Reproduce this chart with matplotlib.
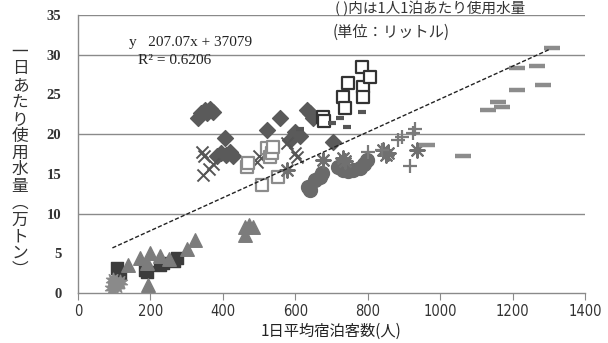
import matplotlib
matplotlib.use("Agg")
import matplotlib.pyplot as plt
import numpy as np

plt.rcParams['font.family'] = ['Noto Sans CJK JP', 'DejaVu Sans']

# ---- data (x: 1日平均宿泊客数, y: 一日あたり使用水量 万トン) ----
dark_sq_x = [108, 116, 185, 190, 226, 235, 265, 273]
dark_sq_y = [3.1, 2.5, 2.9, 2.6, 3.5, 3.8, 4.0, 4.4]

tri_x = [138, 171, 190, 193, 199, 226, 250, 301, 323, 461, 483, 461, 472]
tri_y = [3.5, 4.4, 3.8, 1.0, 5.0, 4.6, 4.3, 5.6, 6.7, 8.3, 8.3, 7.3, 8.6]

burst_x = [94, 102, 116, 108, 98]
burst_y = [0.6, 1.3, 1.4, 0.9, 1.6]

dia_x = [330, 340, 350, 356, 365, 372, 384, 395, 406, 410, 420, 428, 522, 558, 585, 599, 613, 632, 640, 649, 704]
dia_y = [22.0, 22.6, 23.0, 22.6, 23.2, 22.8, 17.2, 17.6, 19.5, 17.4, 17.8, 17.2, 20.5, 22.0, 19.2, 20.3, 19.8, 23.0, 22.6, 22.0, 19.0]

x_x = [342, 348, 345, 373, 363, 494, 500, 577, 605, 600]
x_y = [17.7, 17.2, 14.8, 16.3, 15.6, 16.5, 17.2, 18.9, 17.1, 17.6]

lsq_x = [467, 470, 508, 522, 530, 535, 539, 552]
lsq_y = [15.9, 16.4, 13.6, 18.2, 17.1, 17.6, 18.4, 14.6]

dsq_x = [677, 680, 732, 737, 746, 784, 787, 787, 807]
dsq_y = [22.1, 21.7, 24.7, 23.3, 26.4, 28.4, 25.9, 24.7, 27.2]

sdash_x = [701, 724, 742, 784, 613]
sdash_y = [21.4, 22.0, 20.9, 22.8, 20.6]

circ_x = [635, 641, 655, 667, 674, 718, 732, 746, 760, 779, 790, 798]
circ_y = [13.3, 13.0, 14.2, 14.6, 15.1, 15.9, 15.5, 15.3, 15.5, 15.7, 16.2, 16.7]

ast_x = [577, 677, 732, 737, 842, 850, 856, 936]
ast_y = [15.5, 16.7, 17.0, 16.6, 18.0, 17.4, 17.6, 18.0]

plus_x = [801, 840, 884, 895, 917, 925, 931]
plus_y = [17.7, 18.0, 19.2, 19.6, 16.0, 20.1, 20.7]

gdash_x = [964, 1063, 1132, 1160, 1171, 1212, 1212, 1268, 1284, 1309]
gdash_y = [18.6, 17.2, 23.1, 24.1, 23.4, 25.5, 28.3, 28.6, 26.2, 30.9]

trend_slope = 207.07
trend_icpt = 37079
trend_x = [95, 1300]

xticks = [0, 200, 400, 600, 800, 1000, 1200, 1400]
yticks = [0, 5, 10, 15, 20, 25, 30, 35]

fig = plt.figure(figsize=(6.08, 3.43), dpi=100)
ax = fig.add_axes([78/608, 1-293/343, 507/608, 278/343])
ax.set_xlim(0, 1400)
ax.set_ylim(0, 35)

for yg in [10, 20, 30, 35]:
    ax.axhline(yg, color='#8a8a8a', lw=1.0, zorder=1)

tx = np.array(trend_x, dtype=float)
ty = (trend_slope * tx + trend_icpt) / 10000
ax.plot(tx, ty, color='#222222', lw=1.0, ls=(0, (3, 1.5)), zorder=6)

ax.scatter(dark_sq_x, dark_sq_y, marker='s', s=80, color='#3c3c3c', zorder=3)
ax.scatter(tri_x, tri_y, marker='^', s=95, color='#7c7c7c', zorder=3)
ax.scatter(burst_x, burst_y, marker=(10, 1, 0), s=110, color='#8a8a8a', zorder=3)
ax.scatter(dia_x, dia_y, marker='D', s=65, color='#5a5a5a', zorder=3)
ax.scatter(x_x, x_y, marker='x', s=75, color='#555555', linewidths=1.4, zorder=3)
ax.scatter(lsq_x, lsq_y, marker='s', s=85, facecolor='white', edgecolor='#8c8c8c', linewidths=1.6, zorder=3)
ax.scatter(dsq_x, dsq_y, marker='s', s=85, facecolor='white', edgecolor='#333333', linewidths=1.6, zorder=3)
ax.scatter(sdash_x, sdash_y, marker='_', s=30, color='#555555', linewidths=3, zorder=3)
ax.scatter(circ_x, circ_y, marker='o', s=100, color='#6a6a6a', zorder=3)
ax.scatter(ast_x, ast_y, marker=(8, 2, 0), s=110, color='#707070', linewidths=1.5, zorder=3)
ax.scatter(plus_x, plus_y, marker='+', s=95, color='#7a7a7a', linewidths=1.6, zorder=3)
ax.scatter(gdash_x, gdash_y, marker='_', s=120, color='#8c8c8c', linewidths=3.2, zorder=3)

for s in ['top', 'right']:
    ax.spines[s].set_visible(False)
for s in ['left', 'bottom']:
    ax.spines[s].set_color('#8a8a8a')
    ax.spines[s].set_linewidth(1.0)

ax.set_xticks(xticks)
ax.set_xticklabels([str(v) for v in xticks], family=['DejaVu Sans'], fontstretch='condensed', fontsize=10.5, color='#333333')
ax.tick_params(axis='x', length=5, color='#8a8a8a', pad=3)
ax.set_yticks(yticks)
ax.set_yticklabels([str(v) for v in yticks], family=['Liberation Serif'], fontweight='bold', fontsize=10.5, color='#333333')
ax.set_yticks([0, 10, 20, 30, 35], minor=True)
ax.tick_params(axis='y', which='major', length=0, pad=12)
ax.tick_params(axis='y', which='minor', length=6, color='#8a8a8a')

ax.set_xlabel('1日平均宿泊客数(人)', fontsize=11, labelpad=3, color='#222222')

# vertical y label
ylab = ['一', '日', 'あ', 'た', 'り', '使', '用', '水', '量', '︵', '万', 'ト', 'ン', '︶']
y0 = 52
for i, ch in enumerate(ylab):
    fig.text(20/608, 1 - (y0 + i*16.8)/343, ch, fontsize=12, ha='center', va='center', color='#333333')

ax.text(140, 31.6, 'y   207.07x + 37079', family=['Liberation Serif'], fontsize=11, color='#222222', va='center')
ax.text(165, 29.3, 'R² = 0.6206', family=['Liberation Serif'], fontsize=11, color='#222222', va='center')
ax.text(865, 32.8, '(単位：リットル)', fontsize=11, color='#333333', va='center', ha='center')

fig.text(430/608, 1 - 1/343, '( )内は1人1泊あたり使用水量', fontsize=10.5, ha='center', va='top', color='#333333')

fig.savefig('out.png', dpi=100)
